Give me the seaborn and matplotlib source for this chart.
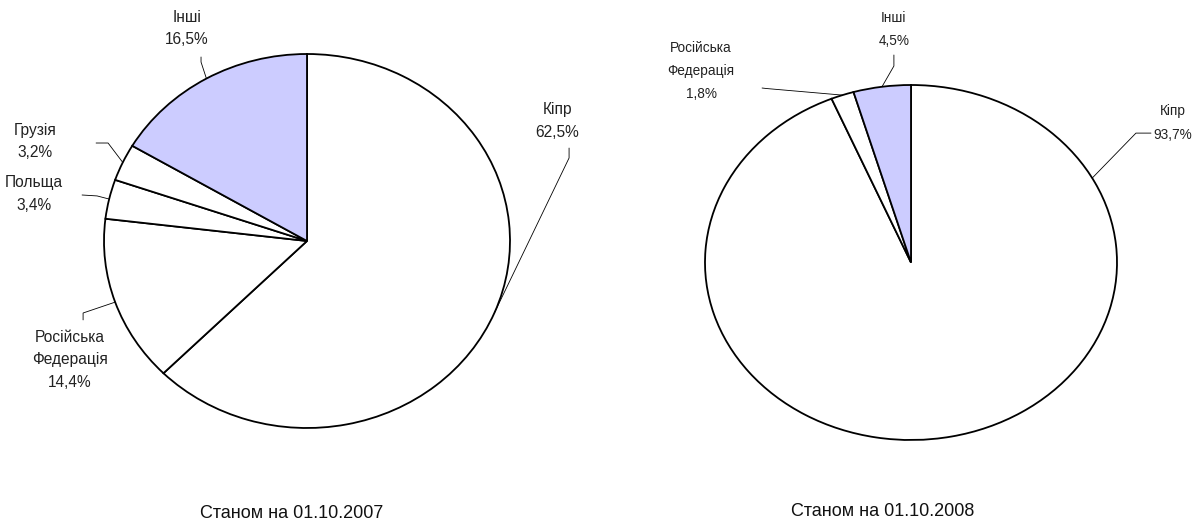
import numpy as np
import matplotlib
matplotlib.use("Agg")
import matplotlib.pyplot as plt
import seaborn as sns

# Дані: країни та частки (%)
LABELS_2007 = ["Кіпр", "Російська\nФедерація", "Польща", "Грузія", "Інші"]
VALUES_2007 = [62.5, 14.4, 3.4, 3.2, 16.5]
LABELS_2008 = ["Кіпр", "Російська\nФедерація", "Інші"]
VALUES_2008 = [93.7, 1.8, 4.5]
TITLE_2007 = "Станом на 01.10.2007"
TITLE_2008 = "Станом на 01.10.2008"

OTHER_COLOR = "#CCCCFF"

# розміщення підписів (текст, вирівнювання, початок лінії, злам, кут прив'язки або None)
LAYOUT_2007 = [
    ((1.232, 0.642), "center", (1.291, 0.497), (1.291, 0.444), None),
    ((-1.167, -0.636), "center", (-1.103, -0.422), (-1.103, -0.385), None),
    ((-1.345, 0.251), "center", (-1.108, 0.246), (-1.034, 0.241), None),
    ((-1.340, 0.532), "center", (-1.039, 0.524), (-0.980, 0.524), None),
    ((-0.591, 1.136), "center", (-0.522, 0.984), (-0.522, 0.957), None),
]
LAYOUT_2008 = [
    ((1.175, 0.785), "left", (1.165, 0.729), (1.092, 0.729), 28.4),
    ((-1.019, 1.079), "center", (-0.723, 0.983), (-0.700, 0.980), None),
    ((-0.083, 1.311), "center", (-0.083, 1.169), (-0.083, 1.107), None),
]


def fmt_pct(v):
    return f"{v:.1f}%".replace(".", ",")


def draw_pie(ax, labels, values, layout, fs, ls):
    colors = ["white"] * (len(values) - 1) + [OTHER_COLOR]
    ax.pie(values, startangle=90, counterclock=False, colors=colors,
           wedgeprops=dict(edgecolor="black", linewidth=1.3))
    ax.set_aspect("auto")
    ax.set_xlim(-1, 1)
    ax.set_ylim(-1, 1)
    ax.axis("off")

    cum = np.concatenate([[0], np.cumsum(values)])
    for i, (lab, val) in enumerate(zip(labels, values)):
        (tx, ty), ha, start, elbow, ang = layout[i]
        if ang is None:
            ang = 90 - (cum[i] + val / 2) * 3.6
        px, py = np.cos(np.radians(ang)), np.sin(np.radians(ang))
        ax.plot([start[0], elbow[0], px], [start[1], elbow[1], py],
                color="black", lw=0.6, clip_on=False)
        ax.text(tx, ty, f"{lab}\n{fmt_pct(val)}", ha=ha, va="center",
                multialignment="center", fontsize=fs, linespacing=ls,
                color="#222222")


def main():
    sns.set_theme(style="white")
    plt.rcParams["font.family"] = ["Liberation Sans", "DejaVu Sans"]

    W, H = 1194, 522
    fig = plt.figure(figsize=(W / 100, H / 100), dpi=100)

    ax1 = fig.add_axes([104 / W, 1 - 428 / H, 406 / W, 374 / H])
    draw_pie(ax1, LABELS_2007, VALUES_2007, LAYOUT_2007, 11.2, 1.6)

    ax2 = fig.add_axes([705 / W, 1 - 440 / H, 412 / W, 355 / H])
    draw_pie(ax2, LABELS_2008, VALUES_2008, LAYOUT_2008, 9.8, 1.85)

    fig.text(292 / W, 1 - 513 / H, TITLE_2007, ha="center", va="center",
             fontsize=13, color="#111111")
    fig.text(883 / W, 1 - 511 / H, TITLE_2008, ha="center", va="center",
             fontsize=13, color="#111111")

    fig.savefig("out.png", dpi=100, facecolor="white")
    plt.close(fig)


if __name__ == "__main__":
    main()
